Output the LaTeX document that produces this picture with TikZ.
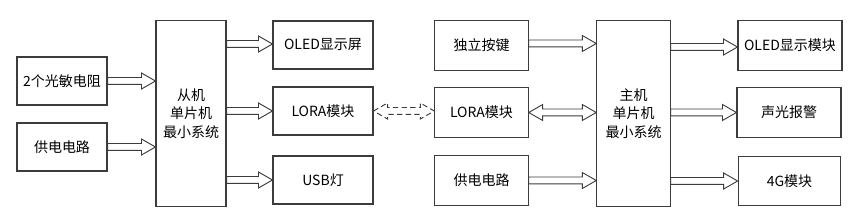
\documentclass[tikz,border=0pt]{standalone}
\usepackage{fontspec}
\setmainfont{Noto Sans CJK SC}
\usetikzlibrary{calc}
\definecolor{boxline}{RGB}{60,60,60}
\tikzset{
  % plain block
  blk/.style={rectangle, draw=boxline, line width=0.8pt, align=center,
              font=\fontsize{10.5}{14}\selectfont, inner sep=1pt},
  % hollow block arrow, left to right
  harr/.style={draw=boxline, line width=0.7pt, to path={
    let \p1=(\tikztostart), \p2=(\tikztotarget) in
    (\x1,\y1+2.6pt) -- (\x2-10.5pt,\y1+2.6pt) -- (\x2-10.5pt,\y1+6pt)
    -- (\x2,\y1) -- (\x2-10.5pt,\y1-6pt) -- (\x2-10.5pt,\y1-2.6pt)
    -- (\x1,\y1-2.6pt) -- cycle}},
  % hollow block arrow, both ways
  hbarr/.style={draw=boxline, line width=0.7pt, to path={
    let \p1=(\tikztostart), \p2=(\tikztotarget) in
    (\x1,\y1) -- (\x1+10.5pt,\y1+6pt) -- (\x1+10.5pt,\y1+2.6pt)
    -- (\x2-10.5pt,\y1+2.6pt) -- (\x2-10.5pt,\y1+6pt) -- (\x2,\y1)
    -- (\x2-10.5pt,\y1-6pt) -- (\x2-10.5pt,\y1-2.6pt)
    -- (\x1+10.5pt,\y1-2.6pt) -- (\x1+10.5pt,\y1-6pt) -- cycle}},
  dbarr/.style={hbarr, dash pattern=on 4pt off 2.5pt},
}
\begin{document}
\begin{tikzpicture}[x=0.75pt,y=-0.75pt]
  \useasboundingbox (0,0) rectangle (858,217);

  %% -- slave side --
  \node[blk, minimum width=67.5pt, minimum height=36pt] (sens) at (62,81) {2个光敏电阻};
  \node[blk, minimum width=67.5pt, minimum height=36pt] (pwra) at (62,147) {供电电路};
  \node[blk, minimum width=52.5pt, minimum height=139pt] (slave) at (191,113.5)
       {从机\\单片机\\最小系统};
  \node[blk, minimum width=75pt, minimum height=36pt] (oleda) at (323,45) {OLED显示屏};
  \node[blk, minimum width=75pt, minimum height=36pt] (loraa) at (323,111) {LORA模块};
  \node[blk, minimum width=75pt, minimum height=36pt] (usb) at (323,180) {USB灯};

  %% -- master side --
  \node[blk, minimum width=70pt, minimum height=37pt] (key) at (481.5,45.5) {独立按键};
  \node[blk, minimum width=70pt, minimum height=37pt] (lorab) at (481.5,112.5) {LORA模块};
  \node[blk, minimum width=70pt, minimum height=37pt] (pwrb) at (481.5,180.5) {供电电路};
  \node[blk, minimum width=55pt, minimum height=139pt] (master) at (633.5,113.5)
       {主机\\单片机\\最小系统};
  \node[blk, minimum width=78pt, minimum height=37pt] (oledb) at (790,45.5) {OLED显示模块};
  \node[blk, minimum width=78pt, minimum height=37pt] (alarm) at (789,112.5) {声光报警};
  \node[blk, minimum width=77pt, minimum height=37pt] (gfour) at (789.5,181) {4G模块};

  %% -- arrows --
  \draw[harr] (sens.east) to (sens.east -| slave.west);
  \draw[harr] (pwra.east) to (pwra.east -| slave.west);
  \draw[harr] ($(slave.east |- oleda)+(0,-1)$) to ($(oleda.west)+(0,-1)$);
  \draw[harr] (slave.east |- loraa) to (loraa.west);
  \draw[harr] (slave.east |- usb) to (usb.west);
  \draw[dbarr] (loraa.east) to (loraa.east -| lorab.west);
  \draw[harr] ($(key.east)+(0,-2)$) to ($(key.east -| master.west)+(0,-2)$);
  \draw[hbarr] (lorab.east) to (lorab.east -| master.west);
  \draw[harr] (pwrb.east) to (pwrb.east -| master.west);
  \draw[harr] ($(master.east |- oledb)+(0,1.5)$) to ($(oledb.west)+(0,1.5)$);
  \draw[harr] (master.east |- alarm) to (alarm.west);
  \draw[harr] (master.east |- gfour) to (gfour.west);
\end{tikzpicture}
\end{document}
